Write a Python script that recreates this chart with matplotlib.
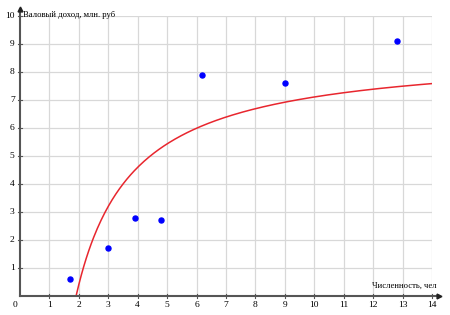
import numpy as np
import matplotlib.pyplot as plt

# data
staff = [1.7, 3.0, 3.9, 4.8, 6.2, 9.0, 12.8]       # численность, чел
income = [0.6, 1.7, 2.8, 2.7, 7.9, 7.6, 9.1]       # валовый доход, млн. руб
x_ticks = list(range(1, 15))
y_ticks = list(range(1, 11))

# hyperbolic fit y = a + b/x
b, a = np.polyfit(1 / np.array(staff), income, 1)
xs = np.linspace(1.5, 14, 300)
ys = a + b / xs

plt.rcParams['font.family'] = ['Liberation Serif', 'DejaVu Serif']

fig = plt.figure(figsize=(4.5, 3.15), dpi=100)
ax = fig.add_axes([20 / 450, 19 / 315, 412 / 450, 280 / 315])
ax.set_xlim(0, 14)
ax.set_ylim(0, 10)

# grid
for xv in x_ticks:
    ax.plot([xv, xv], [0, 10], color='#d8d8d8', lw=0.9, zorder=0)
for yv in y_ticks:
    ax.plot([0, 14], [yv, yv], color='#d8d8d8', lw=0.9, zorder=0)

for s in ax.spines.values():
    s.set_visible(False)
ax.set_xticks([])
ax.set_yticks([])

# axes with arrows
ax.plot([0, 14.25], [0, 0], color='#555555', lw=1.5, clip_on=False, zorder=3)
ax.plot([0, 0], [0, 10.25], color='#555555', lw=1.5, clip_on=False, zorder=3)
ax.plot(14.25, 0, marker='>', color='#222222', ms=3.5, clip_on=False, zorder=4)
ax.plot(0, 10.25, marker='^', color='#222222', ms=3.5, clip_on=False, zorder=4)

for xv in x_ticks:
    ax.plot([xv, xv], [-0.08, 0.08], color='#555555', lw=0.8, clip_on=False)
    ax.text(xv, -0.18, str(xv), ha='center', va='top', fontsize=6.8)
for yv in y_ticks:
    ax.plot([-0.06, 0.06], [yv, yv], color='#555555', lw=0.8, clip_on=False)
    ax.text(-0.18, yv, str(yv), ha='right', va='center', fontsize=6.8)
ax.text(-0.1, -0.18, '0', ha='right', va='top', fontsize=6.8)

ax.text(0.1, 10.05, 'Валовый доход, млн. руб', ha='left', va='center', fontsize=6.2)
ax.text(14.15, 0.22, 'Численность, чел', ha='right', va='bottom', fontsize=6.2)

ax.plot(xs, ys, color='#e8262e', lw=1.1, zorder=2)
ax.scatter(staff, income, color='#0000ff', s=13, zorder=5)

fig.savefig('out.png', dpi=100)
